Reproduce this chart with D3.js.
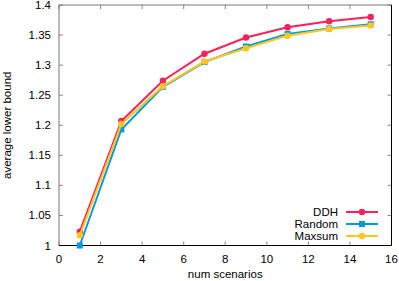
<!DOCTYPE html>
<html><head><meta charset="utf-8">
<script src="https://cdn.jsdelivr.net/npm/d3@7"></script>
<style>body{margin:0;background:#fff}svg{display:block}text{font-family:"Liberation Sans",Arial,sans-serif;font-size:11.5px;fill:#000}</style>
</head><body>
<svg id="c" width="399" height="281"></svg>
<script>
const xs = [1,3,5,7,9,11,13,15];
const ddh = [1.023,1.207,1.274,1.319,1.346,1.363,1.373,1.380];
const randomV = [1.000,1.193,1.264,1.305,1.331,1.352,1.361,1.368];
const maxsum = [1.017,1.202,1.265,1.306,1.328,1.349,1.360,1.366];
const seriesNames = ["DDH","Random","Maxsum"];
const seriesColors = ["#ff1f5b","#009ade","#ffc61e"];
const xTicks = [0,2,4,6,8,10,12,14,16];
const yTicks = [1,1.05,1.1,1.15,1.2,1.25,1.3,1.35,1.4];
const yTickLabels = ["1","1.05","1.1","1.15","1.2","1.25","1.3","1.35","1.4"];

const svg = d3.select("#c");
const L=59,R=391.5,T=5,B=245.5;
const x = d3.scaleLinear().domain([0,16]).range([L,R]);
const y = d3.scaleLinear().domain([1,1.4]).range([B,T]);

const g = svg.append("g");
xTicks.forEach(t=>{
  g.append("line").attr("x1",x(t)).attr("x2",x(t)).attr("y1",B).attr("y2",B-4).attr("stroke","#888");
  g.append("line").attr("x1",x(t)).attr("x2",x(t)).attr("y1",T).attr("y2",T+4).attr("stroke","#888");
  g.append("text").attr("x",x(t)).attr("y",B+17).attr("text-anchor","middle").text(t);
});
yTicks.forEach((t,i)=>{
  g.append("line").attr("x1",L).attr("x2",L+4).attr("y1",y(t)).attr("y2",y(t)).attr("stroke","#888");
  g.append("line").attr("x1",R).attr("x2",R-4).attr("y1",y(t)).attr("y2",y(t)).attr("stroke","#888");
  g.append("text").attr("x",L-8).attr("y",y(t)+4).attr("text-anchor","end").text(yTickLabels[i]);
});
g.append("line").attr("x1",L).attr("x2",R).attr("y1",T).attr("y2",T).attr("stroke","#777");
g.append("line").attr("x1",L).attr("x2",L).attr("y1",T).attr("y2",B).attr("stroke","#777");
g.append("line").attr("x1",R).attr("x2",R).attr("y1",T).attr("y2",B).attr("stroke","#000");
g.append("line").attr("x1",L).attr("x2",R).attr("y1",B).attr("y2",B).attr("stroke","#000");

svg.append("text").attr("x",(L+R)/2).attr("y",278).attr("text-anchor","middle").text("num scenarios");
svg.append("text").attr("transform",`translate(11,${(T+B)/2}) rotate(-90)`).attr("text-anchor","middle").text("average lower bound");

const data=[ddh,randomV,maxsum];
const line=d3.line().x((d,i)=>x(xs[i])).y(d=>y(d));
function marker(sel,k,cx,cy){
  if(k===1) sel.append("rect").attr("x",cx-3).attr("y",cy-3).attr("width",6).attr("height",6).attr("fill",seriesColors[k]);
  else sel.append("circle").attr("cx",cx).attr("cy",cy).attr("r",3.2).attr("fill",seriesColors[k]);
}
data.forEach((vals,k)=>{
  const sg=svg.append("g");
  sg.append("path").datum(vals).attr("d",line).attr("fill","none").attr("stroke",seriesColors[k]).attr("stroke-width",2);
  vals.forEach((v,i)=>marker(sg,k,x(xs[i]),y(v)));
});
seriesNames.forEach((n,k)=>{
  const ly=212+k*12;
  svg.append("text").attr("x",338).attr("y",ly+4).attr("text-anchor","end").text(n);
  svg.append("line").attr("x1",346).attr("x2",378).attr("y1",ly).attr("y2",ly).attr("stroke",seriesColors[k]).attr("stroke-width",2);
  marker(svg,k,362,ly);
});
</script>
</body></html>
